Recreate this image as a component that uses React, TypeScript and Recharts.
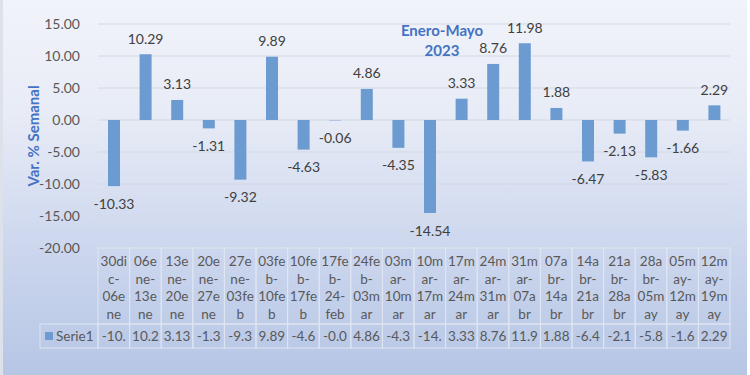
import React from 'react';
import { BarChart, Bar, XAxis, YAxis, CartesianGrid, LabelList } from 'recharts';

const categories = [
  '30dic-06ene', '06ene-13ene', '13ene-20ene', '20ene-27ene', '27ene-03feb',
  '03feb-10feb', '10feb-17feb', '17feb-24-feb', '24feb-03mar', '03mar-10mar',
  '10mar-17mar', '17mar-24mar', '24mar-31mar', '31mar-07abr', '07abr-14abr',
  '14abr-21abr', '21abr-28abr', '28abr-05may', '05may-12may', '12may-19may',
];

const tickLines = [
  ['30di', 'c-', '06e', 'ne'], ['06e', 'ne-', '13e', 'ne'], ['13e', 'ne-', '20e', 'ne'],
  ['20e', 'ne-', '27e', 'ne'], ['27e', 'ne-', '03fe', 'b'], ['03fe', 'b-', '10fe', 'b'],
  ['10fe', 'b-', '17fe', 'b'], ['17fe', 'b-', '24-', 'feb'], ['24fe', 'b-', '03m', 'ar'],
  ['03m', 'ar-', '10m', 'ar'], ['10m', 'ar-', '17m', 'ar'], ['17m', 'ar-', '24m', 'ar'],
  ['24m', 'ar-', '31m', 'ar'], ['31m', 'ar-', '07a', 'br'], ['07a', 'br-', '14a', 'br'],
  ['14a', 'br-', '21a', 'br'], ['21a', 'br-', '28a', 'br'], ['28a', 'br-', '05m', 'ay'],
  ['05m', 'ay-', '12m', 'ay'], ['12m', 'ay-', '19m', 'ay'],
];

const serie1 = [
  -10.33, 10.29, 3.13, -1.31, -9.32, 9.89, -4.63, -0.06, 4.86, -4.35,
  -14.54, 3.33, 8.76, 11.98, 1.88, -6.47, -2.13, -5.83, -1.66, 2.29,
];

const yTicks = [-20, -15, -10, -5, 0, 5, 10, 15];
const seriesName = 'Serie1';
const yLabel = 'Var. % Semanal';
const titleLines = ['Enero-Mayo', '2023'];

const data = categories.map((c, i) => ({ name: c, value: serie1[i], idx: i }));

const FONT = 'Lato, "Open Sans", sans-serif';
const TEXT = '#595959';
const BAR = '#6c9bd2';
const BLUE = '#4472c4';
const CELL = '#dfe5f1';

const TableTick = (props: any) => {
  const { x, y, index, width } = props;
  const n = categories.length;
  const band = width && width > 0 ? width / n : 31.6;
  const left = x - band / 2;
  const top = y;
  const headH = 76;
  const rowH = 24;
  const lines = tickLines[index] || [];
  const valText = serie1[index].toFixed(2).slice(0, 4);
  return (
    <g>
      <rect x={left} y={top} width={band} height={headH} fill="none" stroke={CELL} strokeWidth={1} />
      <rect x={left} y={top + headH} width={band} height={rowH} fill="none" stroke={CELL} strokeWidth={1} />
      {lines.map((l, k) => (
        <text key={k} x={x} y={top + 13 + k * 17.5} textAnchor="middle" dominantBaseline="central"
          fontFamily={FONT} fontSize={13.5} fill={TEXT}>{l}</text>
      ))}
      <text x={x} y={top + headH + rowH / 2} textAnchor="middle" dominantBaseline="central"
        fontFamily={FONT} fontSize={13.5} fill={TEXT}>{valText}</text>
      {index === 0 && (
        <g>
          <rect x={left - 58} y={top + headH} width={58} height={rowH} fill="none" stroke={CELL} strokeWidth={1} />
          <rect x={left - 53} y={top + headH + rowH / 2 - 4} width={8} height={8} fill={BAR} />
          <text x={left - 42} y={top + headH + rowH / 2} textAnchor="start" dominantBaseline="central"
            fontFamily={FONT} fontSize={13.5} fill={TEXT}>{seriesName}</text>
        </g>
      )}
    </g>
  );
};

const BarLabel = (props: any) => {
  const { x, y, width, height, value } = props;
  const top = Math.min(y, y + height);
  const bottom = Math.max(y, y + height);
  const cy = value >= 0 ? top - 16 : bottom + 17;
  return (
    <text x={x + width / 2} y={cy} textAnchor="middle" dominantBaseline="central"
      fontFamily={FONT} fontSize={14} fill="#404040">{Number(value).toFixed(2)}</text>
  );
};

const YLabel = (props: any) => {
  const vb = props.viewBox || { x: 0, y: 24, width: 98, height: 224 };
  const cy = vb.y + vb.height / 2;
  return (
    <text x={33} y={cy} transform={`rotate(-90 33 ${cy})`} textAnchor="middle" dominantBaseline="central"
      fontFamily={FONT} fontWeight={700} fontSize={15} fill={BLUE}>{yLabel}</text>
  );
};

export default function App() {
  return (
    <div style={{ position: 'fixed', left: 0, top: 0, width: 750, height: 375, overflow: 'hidden',
      background: 'linear-gradient(to bottom, #f1f3fa 0%, #e8ecf6 30%, #cdd7ee 65%, #b6c6e5 100%)' }}>
      <div style={{ position: 'absolute', left: 0, top: 0, width: 3, height: 375, background: '#dde1ea' }} />
      <div style={{ position: 'absolute', right: 0, top: 0, width: 3, height: 375, background: '#ffffff' }} />
      <BarChart width={750} height={375} data={data}
        margin={{ top: 24, right: 20, bottom: 27, left: 0 }} barCategoryGap="31%">
        <CartesianGrid vertical={false} stroke="#d3d8e3" strokeWidth={1} />
        <XAxis dataKey="name" height={100} tick={<TableTick />} tickLine={false} axisLine={false}
          tickSize={0} tickMargin={0} interval={0} />
        <YAxis width={98} domain={[-20, 15]} ticks={yTicks} tickLine={false} axisLine={false}
          tickFormatter={(v: number) => v.toFixed(2)} tickMargin={12}
          tick={{ fontFamily: FONT, fontSize: 14, fill: TEXT }}
          label={<YLabel />} />
        <Bar dataKey="value" fill={BAR} isAnimationActive={false} barSize={12}>
          <LabelList dataKey="value" content={<BarLabel />} />
        </Bar>
      </BarChart>
      {titleLines.map((t, i) => (
        <div key={i} style={{ position: 'absolute', left: 342, width: 200, top: 20 + i * 20, textAlign: 'center',
          fontFamily: FONT, fontWeight: 700, fontSize: 15, color: BLUE, lineHeight: '20px' }}>{t}</div>
      ))}
    </div>
  );
}
